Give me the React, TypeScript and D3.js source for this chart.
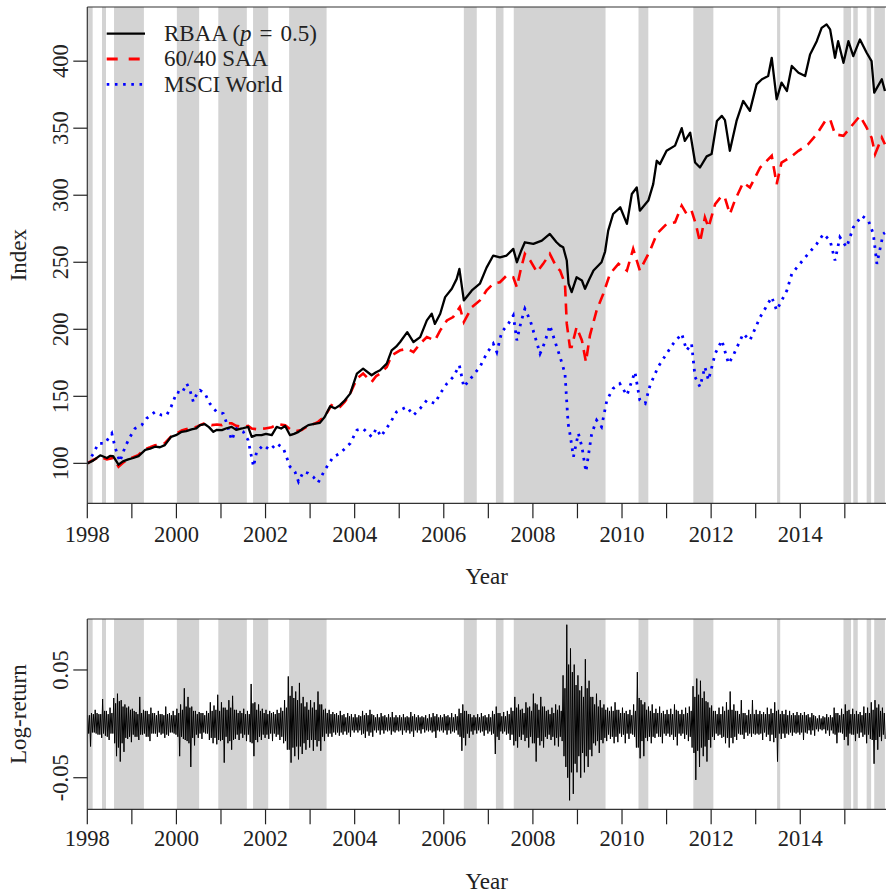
import React from 'react';
import * as d3 from 'd3';

// ---------- data ----------
const rbaaYears = [1998.00,1998.13,1998.29,1998.44,1998.51,1998.58,1998.70,1998.80,1998.92,1999.03,1999.15,1999.30,1999.41,1999.52,1999.63,1999.74,1999.88,1999.99,2000.12,2000.22,2000.34,2000.44,2000.53,2000.64,2000.73,2000.83,2000.91,2001.02,2001.11,2001.24,2001.34,2001.47,2001.61,2001.69,2001.79,2001.91,2002.01,2002.14,2002.25,2002.35,2002.44,2002.55,2002.64,2002.74,2002.84,2002.96,2003.09,2003.22,2003.33,2003.45,2003.56,2003.67,2003.78,2003.90,2004.05,2004.19,2004.38,2004.48,2004.57,2004.72,2004.83,2004.93,2005.02,2005.18,2005.32,2005.47,2005.62,2005.73,2005.80,2005.92,2006.03,2006.18,2006.29,2006.35,2006.45,2006.63,2006.81,2006.96,2007.11,2007.26,2007.41,2007.56,2007.64,2007.73,2007.82,2008.01,2008.20,2008.38,2008.53,2008.61,2008.68,2008.76,2008.80,2008.87,2008.98,2009.10,2009.17,2009.26,2009.36,2009.54,2009.62,2009.69,2009.80,2009.96,2010.11,2010.22,2010.33,2010.40,2010.59,2010.70,2010.78,2010.85,2011.00,2011.19,2011.34,2011.41,2011.53,2011.64,2011.75,2011.90,2012.01,2012.13,2012.24,2012.31,2012.42,2012.57,2012.72,2012.87,2013.02,2013.14,2013.28,2013.36,2013.47,2013.58,2013.70,2013.81,2013.96,2014.11,2014.22,2014.37,2014.48,2014.59,2014.67,2014.78,2014.85,2014.97,2015.08,2015.19,2015.34,2015.49,2015.60,2015.66,2015.83,2015.90];
const rbaaValues = [100,102,106,104,105.5,105.4,99,101.5,103,104,105.4,110,111,112.4,112,113.6,119.8,121,123.5,124,125.3,126,128.5,129.2,127,123.5,125,124.8,126,127.2,125,126,127.2,119.8,121,121,122,121,127.2,126,127.8,121,122,123.5,126,128.5,129.5,130.2,134.7,142.6,141,143.4,147,152,167,170.7,165.7,168,169.4,174.4,184.3,187,190.5,197.9,190.5,194.2,206.6,211.6,204,211.6,224,230.2,237.6,245,221.5,229,234,246,255,253.7,255,260,250,258,264.9,263.7,266.1,271.1,264.9,262.4,261.2,251.3,234,227.7,238.8,236.4,230.2,237,243.8,250,258,273.6,286,291,278.6,300.9,305.8,288.5,296,308.3,325.7,323.2,333.1,337,350,340.5,346.7,324.4,320.7,329,330.7,355.4,359.2,356,333.1,355.4,370.3,362.9,382.7,386.5,388.9,402.5,371.6,384,377.8,396.4,391.4,388.9,405,414.9,424.8,427.4,423.7,402.5,414.9,398.8,414.9,403.8,416.2,406.3,400,376.5,386.5,377.8];

const saaYears = [1998.00,1998.13,1998.29,1998.44,1998.58,1998.70,1998.80,1998.92,1999.03,1999.14,1999.29,1999.41,1999.52,1999.63,1999.74,1999.88,1999.99,2000.12,2000.21,2000.34,2000.44,2000.53,2000.64,2000.79,2000.91,2001.02,2001.11,2001.24,2001.34,2001.47,2001.61,2001.69,2001.79,2001.99,2002.14,2002.29,2002.44,2002.55,2002.66,2002.81,2002.96,2003.09,2003.18,2003.33,2003.48,2003.56,2003.67,2003.78,2003.90,2004.05,2004.19,2004.38,2004.48,2004.57,2004.72,2004.83,2005.02,2005.18,2005.32,2005.47,2005.62,2005.80,2005.92,2006.07,2006.21,2006.36,2006.45,2006.63,2006.81,2006.96,2007.11,2007.26,2007.41,2007.56,2007.64,2007.73,2007.82,2007.94,2008.09,2008.23,2008.38,2008.53,2008.61,2008.68,2008.72,2008.76,2008.83,2008.87,2008.98,2009.10,2009.19,2009.28,2009.43,2009.58,2009.73,2009.92,2010.11,2010.25,2010.40,2010.63,2010.78,2011.00,2011.19,2011.34,2011.45,2011.56,2011.66,2011.75,2011.86,2011.94,2012.09,2012.24,2012.31,2012.42,2012.53,2012.72,2012.87,2013.10,2013.36,2013.47,2013.58,2013.77,2013.96,2014.18,2014.37,2014.56,2014.67,2014.78,2014.97,2015.12,2015.34,2015.49,2015.60,2015.68,2015.83,2015.90];
const saaValues = [100,102.5,105,103,104,97.5,100.5,103,104.5,106,110.5,112,113.5,114,115,120,122,124.5,125.5,126.5,127,128.5,130,128.5,129,128.5,130,129.8,128,127.2,128,126,125.5,126,127,129.2,128.5,125.5,124,124.8,128,129.5,131,135,143.4,142,142,146,152,163.2,167,160.7,165,167,171.9,180.6,184.3,185.5,183,189.3,194.2,191.7,199.2,206.6,209.1,216.5,205.4,216.5,221.5,229,234,235.1,240.1,238.8,231.4,245,256.3,251.3,242.6,248.8,256.3,246.3,243.8,237.6,234,204.2,186.8,186.8,201.6,191.7,175.6,195.5,214.1,226.5,241.4,248.8,243.8,260,243.8,258.7,271.1,278.6,279.8,292.2,286,288.5,278,264.9,283.5,276,293.4,299.6,298,286,295.9,309.5,305.8,320.7,329.4,308.3,324.4,328.1,333.1,338.1,345.5,355.4,356.7,345.5,344.3,350.4,359.2,350.4,343,330.7,343,338.1];

const msciYears = [1998.00,1998.13,1998.25,1998.40,1998.46,1998.55,1998.62,1998.73,1998.85,1998.96,1999.07,1999.22,1999.33,1999.52,1999.67,1999.78,1999.88,2000.01,2000.12,2000.23,2000.30,2000.38,2000.46,2000.53,2000.64,2000.75,2000.90,2001.05,2001.13,2001.24,2001.35,2001.50,2001.61,2001.73,2001.80,2001.95,2002.10,2002.25,2002.40,2002.55,2002.66,2002.74,2002.85,2002.96,2003.07,2003.18,2003.33,2003.52,2003.67,2003.90,2004.05,2004.19,2004.38,2004.49,2004.59,2004.79,2004.94,2005.17,2005.32,2005.47,2005.62,2005.80,2005.92,2006.07,2006.21,2006.35,2006.45,2006.63,2006.81,2006.96,2007.11,2007.19,2007.30,2007.45,2007.56,2007.64,2007.73,2007.82,2007.94,2008.05,2008.16,2008.27,2008.38,2008.50,2008.61,2008.72,2008.79,2008.83,2008.91,2009.02,2009.10,2009.19,2009.32,2009.43,2009.54,2009.66,2009.80,2009.95,2010.11,2010.29,2010.40,2010.52,2010.63,2010.81,2011.00,2011.15,2011.34,2011.45,2011.56,2011.64,2011.75,2011.86,2011.94,2012.09,2012.24,2012.39,2012.49,2012.72,2012.87,2013.10,2013.21,2013.36,2013.47,2013.70,2013.81,2013.99,2014.18,2014.37,2014.52,2014.67,2014.78,2014.89,2015.04,2015.19,2015.38,2015.53,2015.64,2015.72,2015.86,2015.90];
const msciValues = [100,107,114.9,114.9,118,122.3,112.4,101.2,112.4,119.8,126,128.5,133.5,138.4,135.9,135.9,142.1,153.3,152.1,159.5,155,145.8,152,154.5,152.1,144.6,138.4,137.2,129.8,117.3,126,123.5,117.3,97.5,108.6,113.6,109.9,114.9,111.2,97.5,93.8,86.3,93.8,92.6,90,85.6,95,104.9,107.4,114.9,124.8,126,119.8,126,120,129.8,138.4,142.1,135.9,140.9,147.1,144.6,152.1,159.5,164.4,173.1,157,164.4,171.9,181.8,189.3,183,197.9,204.2,210.3,191.7,205,215.3,206.6,194.2,181.8,190.5,202.9,190.5,179.3,167,129.8,122.3,104.9,122.3,112.4,93.8,122.3,132.2,127.2,147.1,155.8,159.5,150.8,168.2,147.1,144.6,158.3,171.9,181.8,189.3,196.7,184.3,189.3,164.4,157,171.9,162,181.8,191.7,174.4,180,196.7,191.7,209.1,215.3,224,214.1,229,241.4,248.8,256.3,263.7,271.1,266.1,251.3,268.6,261.2,276,284.7,281,271.1,248.8,271.1,272];

// log-returns, four readings per month, Jan 1998 - Nov 2015 (one line per year)
const logReturns = [
  .008,-.009,.008,-.021, .010,-.008,.009,-.008, .013,-.009,.010,-.010, .009,-.010,.009,-.013, .023,-.009,.012,-.011, .012,-.012,.009,-.015, .015,-.009,.010,-.009, .024,-.018,.019,-.030, .028,-.022,.021,-.035, .022,-.018,.016,-.026, .018,-.013,.015,-.014, .016,-.012,.013,-.017,
  .014,-.010,.012,-.012, .011,-.012,.009,-.015, .025,-.010,.010,-.010, .013,-.009,.012,-.012, .012,-.012,.009,-.016, .015,-.009,.010,-.009, .010,-.009,.008,-.012, .012,-.008,.009,-.010, .009,-.009,.008,-.013, .016,-.010,.009,-.011, .010,-.008,.008,-.008, .012,-.009,.008,-.010,
  .014,-.012,.010,-.030, .018,-.012,.013,-.014, .033,-.015,.016,-.016, .025,-.018,.015,-.040, .016,-.013,.012,-.020, .012,-.010,.009,-.013, .011,-.009,.010,-.014, .010,-.008,.008,-.009, .012,-.009,.010,-.015, .020,-.013,.012,-.018, .017,-.013,.013,-.019, .027,-.015,.012,-.016,
  .020,-.015,.015,-.036, .015,-.012,.013,-.018, .022,-.016,.015,-.024, .026,-.015,.013,-.014, .013,-.010,.010,-.015, .012,-.009,.010,-.013, .014,-.010,.009,-.016, .012,-.010,.009,-.017, .037,-.018,.019,-.030, .020,-.015,.013,-.017, .018,-.012,.012,-.015, .014,-.010,.010,-.013,
  .013,-.010,.009,-.014, .012,-.009,.010,-.016, .011,-.009,.009,-.012, .013,-.010,.010,-.015, .015,-.012,.012,-.018, .022,-.016,.015,-.024, .044,-.024,.026,-.036, .035,-.022,.024,-.030, .030,-.021,.022,-.033, .038,-.021,.019,-.028, .025,-.018,.016,-.024, .020,-.015,.013,-.022,
  .022,-.015,.015,-.025, .020,-.015,.013,-.021, .030,-.016,.018,-.025, .018,-.012,.013,-.016, .014,-.009,.010,-.012, .013,-.009,.009,-.012, .011,-.008,.009,-.010, .010,-.008,.008,-.011, .012,-.008,.008,-.010, .009,-.007,.006,-.010, .010,-.008,.007,-.012, .009,-.006,.006,-.008,
  .009,-.006,.006,-.008, .008,-.006,.007,-.010, .012,-.009,.008,-.013, .010,-.007,.008,-.011, .013,-.008,.009,-.012, .008,-.006,.006,-.008, .009,-.006,.006,-.010, .010,-.006,.007,-.009, .008,-.006,.006,-.007, .009,-.006,.006,-.010, .011,-.007,.006,-.008, .008,-.006,.006,-.007,
  .008,-.006,.006,-.010, .009,-.006,.006,-.008, .007,-.006,.006,-.009, .011,-.007,.007,-.012, .009,-.006,.006,-.008, .008,-.006,.006,-.009, .007,-.005,.006,-.008, .008,-.006,.005,-.007, .009,-.006,.006,-.008, .010,-.007,.007,-.013, .009,-.006,.006,-.007, .008,-.006,.006,-.008,
  .009,-.006,.007,-.010, .008,-.006,.006,-.009, .010,-.007,.006,-.008, .009,-.006,.007,-.010, .014,-.012,.010,-.025, .018,-.013,.012,-.020, .012,-.009,.009,-.013, .009,-.007,.006,-.010, .008,-.006,.006,-.009, .009,-.006,.006,-.008, .010,-.007,.007,-.011, .008,-.006,.006,-.009,
  .009,-.007,.006,-.010, .012,-.009,.009,-.028, .016,-.012,.010,-.015, .010,-.007,.007,-.009, .011,-.007,.007,-.010, .012,-.009,.009,-.015, .015,-.010,.012,-.020, .025,-.016,.015,-.022, .018,-.012,.013,-.015, .014,-.010,.010,-.016, .020,-.013,.015,-.022, .016,-.012,.012,-.018,
  .028,-.018,.019,-.035, .018,-.013,.013,-.020, .025,-.016,.016,-.022, .016,-.012,.012,-.014, .013,-.010,.009,-.015, .015,-.012,.010,-.020, .018,-.013,.013,-.021, .017,-.012,.012,-.016, .045,-.030,.033,-.040, .092,-.050,.055,-.071, .070,-.045,.048,-.065, .055,-.037,.036,-.045,
  .045,-.030,.031,-.050, .035,-.027,.025,-.045, .060,-.030,.033,-.040, .040,-.024,.025,-.030, .025,-.018,.018,-.020, .028,-.016,.016,-.027, .022,-.015,.015,-.018, .018,-.013,.013,-.016, .015,-.010,.012,-.014, .016,-.012,.012,-.018, .020,-.012,.013,-.017, .013,-.009,.010,-.012,
  .015,-.010,.010,-.018, .012,-.009,.009,-.014, .013,-.009,.008,-.010, .018,-.012,.012,-.022, .048,-.022,.024,-.032, .022,-.016,.018,-.030, .020,-.013,.013,-.016, .016,-.012,.012,-.018, .018,-.012,.010,-.013, .014,-.009,.010,-.012, .016,-.012,.010,-.018, .012,-.009,.009,-.011,
  .013,-.009,.009,-.012, .014,-.010,.009,-.015, .018,-.012,.013,-.020, .012,-.009,.009,-.011, .013,-.009,.009,-.014, .015,-.010,.010,-.016, .016,-.012,.012,-.022, .035,-.027,.025,-.052, .042,-.025,.027,-.040, .040,-.022,.024,-.030, .030,-.021,.021,-.035, .020,-.015,.015,-.022,
  .017,-.012,.012,-.015, .012,-.009,.009,-.011, .015,-.010,.009,-.013, .016,-.012,.012,-.018, .020,-.013,.013,-.022, .030,-.013,.013,-.018, .018,-.012,.012,-.015, .012,-.009,.009,-.010, .022,-.010,.010,-.014, .010,-.008,.008,-.011, .013,-.009,.009,-.012, .022,-.009,.009,-.010,
  .013,-.009,.009,-.010, .012,-.009,.009,-.015, .011,-.008,.009,-.012, .015,-.010,.009,-.016, .014,-.010,.010,-.017, .020,-.013,.012,-.035, .013,-.009,.009,-.014, .012,-.009,.009,-.013, .013,-.009,.008,-.010, .012,-.008,.008,-.011, .010,-.008,.008,-.009, .011,-.008,.008,-.010,
  .010,-.008,.008,-.015, .011,-.008,.008,-.009, .009,-.006,.006,-.010, .010,-.006,.008,-.011, .007,-.005,.005,-.007, .008,-.005,.005,-.006, .007,-.005,.006,-.009, .009,-.006,.006,-.011, .008,-.006,.006,-.009, .015,-.010,.010,-.018, .010,-.008,.008,-.008, .014,-.009,.009,-.015,
  .018,-.012,.012,-.020, .013,-.009,.009,-.010, .014,-.010,.009,-.016, .012,-.009,.009,-.013, .011,-.008,.008,-.012, .016,-.010,.010,-.018, .015,-.010,.010,-.014, .020,-.015,.013,-.037, .022,-.015,.015,-.024, .018,-.012,.012,-.016, .015,-.010,.010,-.014,
];
const readingsPerMonth = 4;

const shadeStart = [1998.0, 1998.33, 1998.60, 2000.01, 2000.94, 2001.72, 2002.53, 2006.45, 2007.17, 2007.57, 2010.37, 2011.60, 2013.48, 2014.97, 2015.19, 2015.49, 2015.66];
const shadeEnd = [1998.12, 1998.42, 1999.27, 2000.51, 2001.58, 2002.06, 2003.37, 2006.74, 2007.34, 2009.63, 2010.59, 2012.05, 2013.55, 2015.14, 2015.29, 2015.59, 2015.90];

const yearTicks = [1998, 1999, 2000, 2001, 2002, 2003, 2004, 2005, 2006, 2007, 2008, 2009, 2010, 2011, 2012, 2013, 2014, 2015];
const yearLabels = [1998, 2000, 2002, 2004, 2006, 2008, 2010, 2012, 2014];
const indexTicks = [100, 150, 200, 250, 300, 350, 400];
const returnTicks = [-0.05, 0.05];
const returnLabels = ['-0.05', '0.05'];

const seriesNames = ['RBAA', '60/40 SAA', 'MSCI World'];
const seriesColors = ['#000000', '#ff0000', '#0000ff'];

const FONT = '"Liberation Serif", "Times New Roman", serif';

export default function App() {
  const W = 886, H = 894;
  const left = 87.3;
  const right = 87.3 + 18 * 44.56;
  const x = d3.scaleLinear().domain([1998, 2016]).range([left, right]);

  const top1 = 7, bot1 = 503.3;
  const y1 = d3.scaleLinear().domain([70.2, 440.4]).range([bot1, top1]);
  const top2 = 619, bot2 = 809.3;
  const y2 = d3.scaleLinear().domain([-0.0793, 0.0973]).range([bot2, top2]);

  const mkLine = (yrs: number[], vals: number[]) =>
    d3.line<number>().x((_, i) => x(yrs[i])).y((d) => y1(d))(vals) || '';

  const retYears = logReturns.map((_, i) => 1998 + (i + 0.5) / readingsPerMonth / 12);
  const retPath = d3.line<number>().x((_, i) => x(retYears[i])).y((d) => y2(d))(logReturns) || '';

  const shades = (t: number, b: number) =>
    shadeStart.map((s, i) => (
      <rect key={i} x={x(s)} y={t} width={x(shadeEnd[i]) - x(s)} height={b - t} fill="#d3d3d3" />
    ));

  const xAxis = (b: number, labelY: number) => (
    <g>
      {yearTicks.map((t) => (
        <line key={t} x1={x(t)} x2={x(t)} y1={b} y2={b + 15} stroke="#222" strokeWidth={1.2} />
      ))}
      {yearLabels.map((t) => (
        <text key={t} x={x(t)} y={labelY} textAnchor="middle" fontSize={22.5} fontFamily={FONT} fill="#222">{t}</text>
      ))}
    </g>
  );

  return (
    <svg width={W} height={H} style={{ position: 'absolute', left: 0, top: 0, background: '#fff' }}>
      <defs>
        <clipPath id="c1"><rect x={left} y={top1} width={W - left} height={bot1 - top1} /></clipPath>
        <clipPath id="c2"><rect x={left} y={top2} width={W - left} height={bot2 - top2} /></clipPath>
      </defs>
      <rect x={0} y={0} width={W} height={H} fill="#fff" />

      {/* top panel */}
      <g clipPath="url(#c1)">
        {shades(top1, bot1)}
        <path d={mkLine(msciYears, msciValues)} fill="none" stroke={seriesColors[2]} strokeWidth={2.8} strokeDasharray="2.6,5.6" />
        <path d={mkLine(saaYears, saaValues)} fill="none" stroke={seriesColors[1]} strokeWidth={2.6} strokeDasharray="11,7" />
        <path d={mkLine(rbaaYears, rbaaValues)} fill="none" stroke={seriesColors[0]} strokeWidth={2.3} strokeLinejoin="round" />
      </g>
      <line x1={left} x2={W} y1={top1} y2={top1} stroke="#333" strokeWidth={1.2} />
      <line x1={left} x2={W} y1={bot1} y2={bot1} stroke="#333" strokeWidth={1.2} />
      <line x1={left} x2={left} y1={top1} y2={bot1} stroke="#333" strokeWidth={1.2} />
      {xAxis(bot1, 542)}
      {indexTicks.map((t) => (
        <g key={t}>
          <line x1={left - 14} x2={left} y1={y1(t)} y2={y1(t)} stroke="#222" strokeWidth={1.2} />
          <text transform={`translate(68,${y1(t)}) rotate(-90)`} textAnchor="middle" fontSize={22.5} fontFamily={FONT} fill="#222">{t}</text>
        </g>
      ))}
      <text x={(left + W) / 2} y={584} textAnchor="middle" fontSize={23} fontFamily={FONT} fill="#222">Year</text>
      <text transform={`translate(26,${(top1 + bot1) / 2}) rotate(-90)`} textAnchor="middle" fontSize={23} fontFamily={FONT} fill="#222">Index</text>

      {/* legend */}
      <g fontFamily={FONT} fontSize={23} fill="#222">
        {seriesNames.map((n, i) => {
          const ly = 33.7 + i * 25.3;
          return (
            <g key={n}>
              <line x1={106.7} x2={145} y1={ly} y2={ly} stroke={seriesColors[i]} strokeWidth={i === 0 ? 2.3 : 2.8}
                strokeDasharray={i === 1 ? '11,11' : i === 2 ? '2.6,5.6' : undefined} />
              <text x={164} y={ly + 7.3}>
                {i === 0 ? (<>{n + ' ('}<tspan fontStyle="italic">p</tspan><tspan dx={8}>=</tspan><tspan dx={8}>0.5)</tspan></>) : n}
              </text>
            </g>
          );
        })}
      </g>

      {/* bottom panel */}
      <g clipPath="url(#c2)">
        {shades(top2, bot2)}
        <path d={retPath} fill="none" stroke="#000" strokeWidth={1} />
      </g>
      <line x1={left} x2={W} y1={top2} y2={top2} stroke="#333" strokeWidth={1.2} />
      <line x1={left} x2={W} y1={bot2} y2={bot2} stroke="#333" strokeWidth={1.2} />
      <line x1={left} x2={left} y1={top2} y2={bot2} stroke="#333" strokeWidth={1.2} />
      {xAxis(bot2, 846)}
      {returnTicks.map((t, i) => (
        <g key={t}>
          <line x1={left - 14} x2={left} y1={y2(t)} y2={y2(t)} stroke="#222" strokeWidth={1.2} />
          <text transform={`translate(68,${y2(t)}) rotate(-90)`} textAnchor="middle" fontSize={22.5} fontFamily={FONT} fill="#222">{returnLabels[i]}</text>
        </g>
      ))}
      <text x={(left + W) / 2} y={889} textAnchor="middle" fontSize={23} fontFamily={FONT} fill="#222">Year</text>
      <text transform={`translate(26,${(top2 + bot2) / 2}) rotate(-90)`} textAnchor="middle" fontSize={23} fontFamily={FONT} fill="#222">Log-return</text>
    </svg>
  );
}
